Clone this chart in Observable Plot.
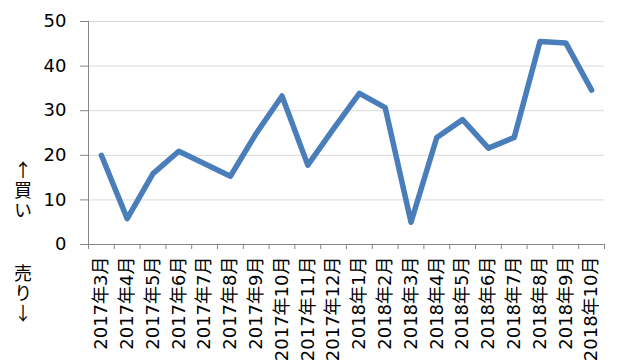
<!DOCTYPE html>
<html>
<head>
<meta charset="utf-8">
<script src="https://cdn.jsdelivr.net/npm/d3@7"></script>
<script src="https://cdn.jsdelivr.net/npm/@observablehq/plot@0.6"></script>
<style>
  body { margin: 0; background: #fff; }
  #wrap { position: relative; width: 622px; height: 364px; font-family: "DejaVu Sans", "Noto Sans CJK JP", sans-serif; }
  .side { position: absolute; writing-mode: vertical-rl; text-orientation: upright; font-family: "Noto Sans CJK JP", sans-serif; font-size: 18px; line-height: 18px; letter-spacing: 2px; color: #000; }
</style>
</head>
<body>
<div id="wrap"></div>
<script>
const months = ["2017年3月","2017年4月","2017年5月","2017年6月","2017年7月","2017年8月","2017年9月","2017年10月","2017年11月","2017年12月",
                "2018年1月","2018年2月","2018年3月","2018年4月","2018年5月","2018年6月","2018年7月","2018年8月","2018年9月","2018年10月"];
const values = [20.0, 5.8, 15.9, 20.9, 18.1, 15.3, 24.9, 33.3, 17.8, 26.0,
                33.9, 30.7, 5.0, 24.0, 28.0, 21.6, 24.0, 45.5, 45.2, 34.6];
const yTicks = [0, 10, 20, 30, 40, 50];
const buyLabel = "↑買い";
const sellLabel = "売り↓";

const data = months.map((m, i) => ({idx: i, month: m, value: values[i]}));
const edges = d3.range(months.length + 1);
const centers = months.map((m, i) => i + 0.5);

const chart = Plot.plot({
  width: 622,
  height: 364,
  marginLeft: 88,
  marginRight: 18,
  marginTop: 21,
  marginBottom: 120,
  style: {fontFamily: "'DejaVu Sans', 'Noto Sans CJK JP', sans-serif", fontSize: "18px", color: "#000", background: "#fff", overflow: "visible"},
  x: {type: "linear", domain: [0, months.length], axis: null},
  y: {domain: [0, 50], axis: null},
  marks: [
    Plot.gridY(yTicks.filter(t => t > 0), {stroke: "#d9d9d9", strokeOpacity: 1}),
    Plot.ruleX([0], {stroke: "#868686"}),
    Plot.ruleY([0], {stroke: "#868686"}),
    Plot.axisY({ticks: yTicks, tickSize: 8, tickPadding: 14, stroke: "#868686", fill: "#000", fontSize: 18, label: null}),
    Plot.axisX({ticks: edges, tickSize: 5, tickFormat: () => "", stroke: "#868686", label: null}),
    Plot.axisX({ticks: centers, tickSize: 0, tickPadding: 12, tickRotate: -90, fontSize: 18, fill: "#000",
                tickFormat: d => months[Math.floor(d)], label: null}),
    Plot.line(data, {x: d => d.idx + 0.5, y: "value", stroke: "#4a7ebb", strokeWidth: 5.5,
                     strokeLinejoin: "round", strokeLinecap: "round"})
  ]
});
const wrap = document.getElementById("wrap");
wrap.appendChild(chart);
const b = document.createElement("div");
b.className = "side"; b.textContent = buyLabel;
b.style.left = "14px"; b.style.top = "161px";
wrap.appendChild(b);
const s = document.createElement("div");
s.className = "side"; s.textContent = sellLabel;
s.style.left = "14px"; s.style.top = "264px";
wrap.appendChild(s);
</script>
</body>
</html>
